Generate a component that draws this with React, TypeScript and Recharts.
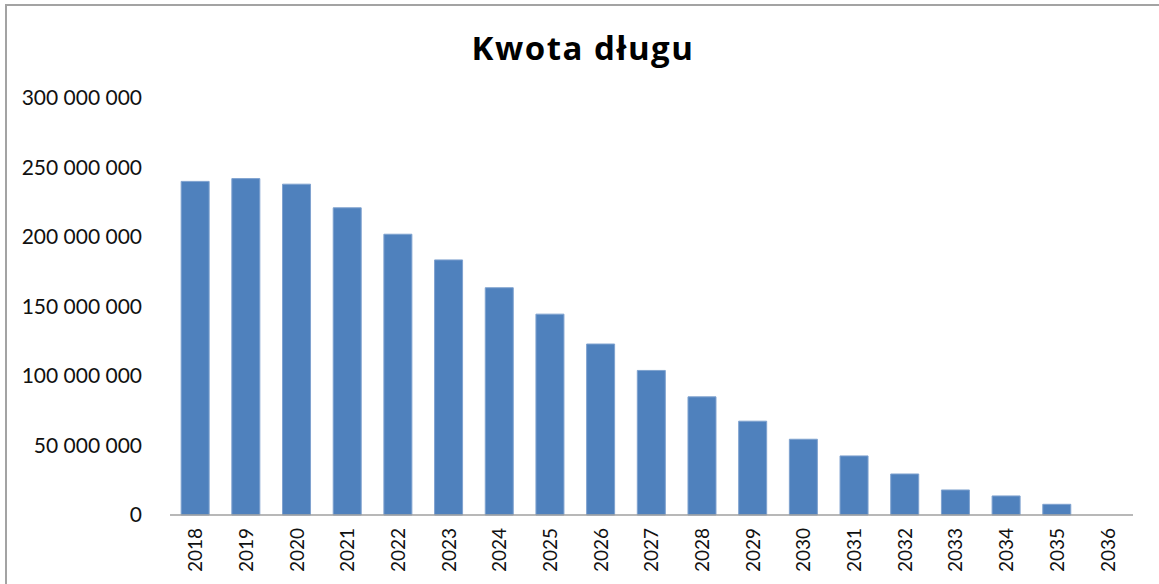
import React from 'react';
import { BarChart, Bar, XAxis, YAxis } from 'recharts';

// Debt amount by year (PLN)
const years = [
  '2018', '2019', '2020', '2021', '2022', '2023', '2024', '2025', '2026', '2027',
  '2028', '2029', '2030', '2031', '2032', '2033', '2034', '2035', '2036',
];
const debtAmounts = [
  240000000, 242000000, 238000000, 221000000, 202000000, 183500000, 163500000,
  144500000, 123000000, 104000000, 85000000, 67500000, 54500000, 42500000,
  29500000, 18000000, 13700000, 7700000, 0,
];
const yTicks = [0, 50000000, 100000000, 150000000, 200000000, 250000000, 300000000];
const title = 'Kwota długu';

const data = years.map((year, i) => ({ year, amount: debtAmounts[i] }));

const formatThousands = (v: number) =>
  String(v).replace(/\B(?=(\d{3})+(?!\d))/g, ' ');

const FONT = 'Lato, "Open Sans", sans-serif';

const YearTick = (props: any) => {
  const { x, y, payload } = props;
  return (
    <g transform={`translate(${x},${y})`}>
      <text
        transform="rotate(-90)"
        textAnchor="end"
        dy="0.36em"
        fill="#111"
        fontSize={19}
        fontFamily={FONT}
      >
        {payload.value}
      </text>
    </g>
  );
};

export default function App() {
  return (
    <div
      style={{
        position: 'absolute',
        left: 0,
        top: 0,
        width: 1159,
        height: 584,
        overflow: 'hidden',
        background: '#fff',
      }}
    >
      {/* frame of the chart area */}
      <div
        style={{
          position: 'absolute',
          left: 5,
          top: 4,
          width: 1300,
          height: 700,
          borderLeft: '2px solid #a3a3a3',
          borderTop: '2px solid #a3a3a3',
        }}
      />
      <div
        style={{
          position: 'absolute',
          left: 0,
          width: 1166,
          top: 26,
          textAlign: 'center',
          fontFamily: '"Open Sans", sans-serif',
          fontWeight: 700,
          fontSize: 33,
          color: '#000',
          lineHeight: '44px',
          letterSpacing: 1.5,
        }}
      >
        {title}
      </div>
      <div style={{ position: 'absolute', left: 0, top: 0 }}>
        <BarChart
          width={1159}
          height={584}
          data={data}
          margin={{ top: 98, right: 26, bottom: 0, left: 0 }}
          barCategoryGap="22%"
        >
          <XAxis
            dataKey="year"
            height={69}
            interval={0}
            tickLine={false}
            tickSize={0}
            tickMargin={13}
            axisLine={{ stroke: '#a0a0a0', strokeWidth: 1.5 }}
            tick={<YearTick />}
          />
          <YAxis
            width={170}
            domain={[0, 300000000]}
            ticks={yTicks}
            interval={0}
            axisLine={false}
            tickLine={false}
            tickSize={0}
            tickMargin={28}
            tickFormatter={formatThousands}
            tick={{ fill: '#111', fontSize: 21, fontFamily: FONT }}
          />
          <Bar
            dataKey="amount"
            fill="#4F81BD"
            stroke="#7fa2cf"
            strokeWidth={1}
            isAnimationActive={false}
          />
        </BarChart>
      </div>
    </div>
  );
}
